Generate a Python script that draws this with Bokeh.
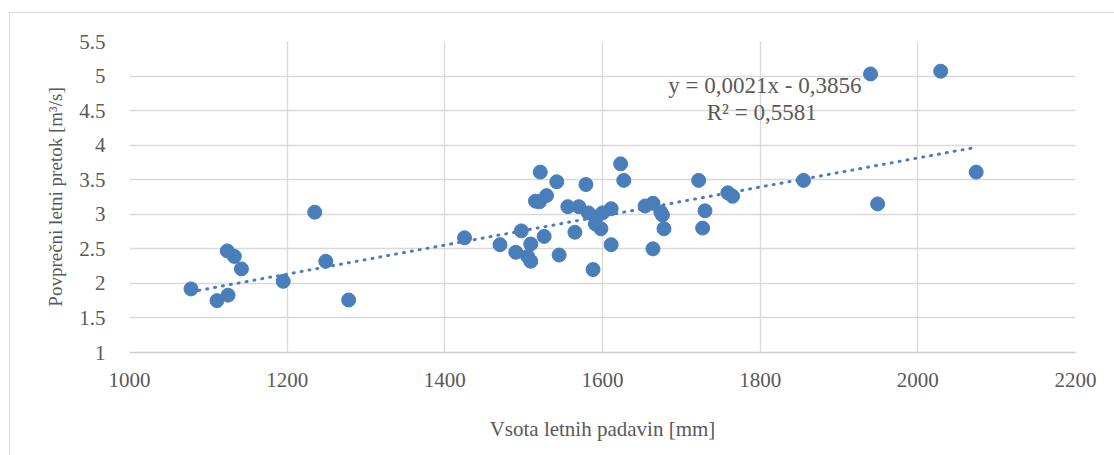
import numpy as np
from bokeh.plotting import figure
from bokeh.models import ColumnDataSource, FixedTicker, Label
from bokeh.embed import file_html
from bokeh.resources import INLINE

# Data
padavine = [1078, 1111, 1125, 1124, 1133, 1142, 1195, 1235, 1249, 1278,
            1425, 1470, 1490, 1497, 1509, 1505, 1509, 1526, 1521, 1515,
            1520, 1529, 1542, 1545, 1556, 1570, 1565, 1579, 1582, 1592,
            1591, 1598, 1600, 1611, 1588, 1611, 1623, 1627, 1654, 1664,
            1674, 1676, 1678, 1664, 1722, 1730, 1727, 1759, 1765, 1855,
            1940, 1949, 2029, 2074]
pretok = [1.92, 1.75, 1.83, 2.47, 2.39, 2.21, 2.03, 3.03, 2.32, 1.76,
          2.66, 2.56, 2.45, 2.76, 2.57, 2.39, 2.32, 2.68, 3.61, 3.19,
          3.18, 3.27, 3.47, 2.41, 3.11, 3.11, 2.74, 3.43, 3.02, 2.96,
          2.86, 2.79, 3.02, 3.08, 2.20, 2.56, 3.73, 3.49, 3.12, 3.16,
          3.03, 2.99, 2.79, 2.50, 3.49, 3.05, 2.80, 3.31, 3.26, 3.49,
          5.03, 3.15, 5.07, 3.61]

x_ticks = [1000, 1200, 1400, 1600, 1800, 2000, 2200]
y_ticks = [1, 1.5, 2, 2.5, 3, 3.5, 4, 4.5, 5, 5.5]
y_tick_labels = ["1", "1.5", "2", "2.5", "3", "3.5", "4", "4.5", "5", "5.5"]

trend_slope = 0.0021
trend_intercept = -0.3856
eq_text = "y = 0,0021x - 0,3856"
r2_text = "R² = 0,5581"

x_title = "Vsota letnih padavin [mm]"
y_title = "Povprečni letni pretok [m³/s]"

BLUE = "#4A7EBB"
GRID = "#d9d9d9"
TXT = "#595959"
FONT = "Liberation Serif"

p = figure(width=1105, height=443, x_range=(1000, 2200), y_range=(1, 5.5),
           output_backend="svg", toolbar_location=None,
           min_border_left=119, min_border_right=40,
           min_border_top=28, min_border_bottom=104)
p.margin = (12, 0, 0, 9)
p.outline_line_color = None
p.background_fill_color = "white"
p.border_fill_color = "white"
p.styles = {"border-top": "1px solid #d9d9d9", "border-left": "1px solid #d9d9d9"}

# grids
p.xgrid.ticker = FixedTicker(ticks=x_ticks)
p.ygrid.ticker = FixedTicker(ticks=y_ticks)
for g in (p.xgrid, p.ygrid):
    g.grid_line_color = GRID
    g.grid_line_width = 1.3

# axes
p.xaxis.ticker = FixedTicker(ticks=x_ticks)
p.yaxis.ticker = FixedTicker(ticks=y_ticks)
p.yaxis.major_label_overrides = {t: l for t, l in zip(y_ticks, y_tick_labels)}
for ax in (p.xaxis, p.yaxis):
    ax.major_tick_line_color = None
    ax.minor_tick_line_color = None
    ax.major_label_text_font = FONT
    ax.major_label_text_font_size = "21px"
    ax.major_label_text_color = TXT
    ax.axis_label_text_font = FONT
    ax.axis_label_text_font_style = "normal"
    ax.axis_label_text_color = TXT
p.xaxis.axis_label_text_font_size = "21px"
p.yaxis.axis_label_text_font_size = "19px"
p.xaxis.axis_line_color = "#cccccc"
p.xaxis.axis_line_width = 1.3
p.yaxis.axis_line_color = None
p.xaxis.major_label_standoff = 14
p.yaxis.major_label_standoff = 18
p.xaxis.axis_label = x_title
p.yaxis.axis_label = y_title
p.xaxis.axis_label_standoff = 27
p.yaxis.axis_label_standoff = 10

# trendline
xs = np.array([min(padavine), max(padavine)], dtype=float)
ys = trend_slope * xs + trend_intercept
p.line(xs, ys, line_color=BLUE, line_width=3, line_dash="1 7", line_cap="round")

# points
src = ColumnDataSource(dict(x=padavine, y=pretok))
p.scatter("x", "y", source=src, size=14, fill_color=BLUE, line_color=BLUE, line_width=1)

# equation labels
p.add_layout(Label(x=1806, y=4.86, text=eq_text, text_align="center", text_baseline="middle",
                   text_font=FONT, text_font_size="23px", text_color=TXT))
p.add_layout(Label(x=1802, y=4.47, text=r2_text, text_align="center", text_baseline="middle",
                   text_font=FONT, text_font_size="23px", text_color=TXT))

open("out.html", "w").write(file_html(p, INLINE))
